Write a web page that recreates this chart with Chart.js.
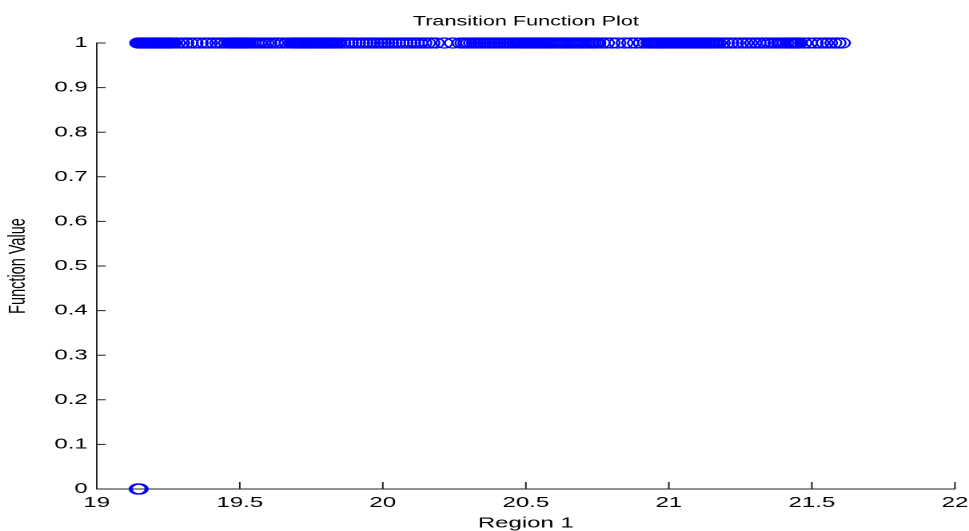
<!DOCTYPE html>
<html>
<head>
<meta charset="utf-8">
<script src="https://cdn.jsdelivr.net/npm/chart.js@4.4.0/dist/chart.umd.min.js"></script>
<style>
  html, body { margin: 0; padding: 0; background: #fff; overflow: hidden; }
  /* the reference figure is stretched sideways, so draw narrow and widen */
  #wrap { width: 606px; height: 531px; transform: scaleX(1.599); transform-origin: 0 0; }
</style>
</head>
<body>
<div id="wrap"><canvas id="chart"></canvas></div>
<script>
// x positions of the observations whose transition value is 1
const onX = [
  19.145, 19.150, 19.156, 19.161, 19.167, 19.172, 19.178, 19.184, 19.190, 19.196, 19.201,
  19.207, 19.213, 19.219, 19.224, 19.230, 19.236, 19.242, 19.248, 19.254, 19.260, 19.266,
  19.280, 19.295, 19.310, 19.325, 19.342, 19.360, 19.378, 19.392, 19.410, 19.425, 19.440, 19.455,
  19.466, 19.472, 19.478, 19.484, 19.490, 19.496, 19.502, 19.508, 19.514, 19.520, 19.527,
  19.535, 19.545, 19.556, 19.566, 19.578, 19.590, 19.600, 19.612, 19.624, 19.635,
  19.652, 19.668,
  19.682, 19.689, 19.695, 19.701, 19.708, 19.714, 19.720, 19.727, 19.733, 19.740, 19.746,
  19.752, 19.759, 19.765, 19.772, 19.778, 19.785, 19.791, 19.798, 19.804, 19.811, 19.818,
  19.824, 19.831, 19.838, 19.845,
  19.858, 19.872, 19.885, 19.898, 19.910, 19.924, 19.936, 19.950, 19.962, 19.975, 19.988,
  20.000, 20.012, 20.025, 20.038, 20.050, 20.063, 20.076, 20.090, 20.103, 20.116, 20.128,
  20.142, 20.155, 20.170, 20.185,
  20.215, 20.245,
  20.272, 20.282, 20.292, 20.302, 20.312, 20.322, 20.332, 20.342, 20.352, 20.362, 20.372,
  20.382, 20.392, 20.402, 20.412, 20.422, 20.432, 20.442, 20.452, 20.462, 20.472,
  20.480, 20.487, 20.494, 20.501, 20.508, 20.515, 20.522, 20.529, 20.536, 20.543, 20.550,
  20.558, 20.566, 20.574, 20.582, 20.590, 20.598, 20.606, 20.614, 20.622, 20.630, 20.638,
  20.646, 20.654, 20.662, 20.670, 20.678, 20.686, 20.694, 20.702, 20.710, 20.718, 20.726,
  20.734, 20.742, 20.750,
  20.765, 20.780, 20.800, 20.820, 20.845, 20.865, 20.885, 20.905, 20.920,
  20.932, 20.938, 20.944, 20.950, 20.956, 20.962, 20.968, 20.975, 20.982, 20.989, 20.996,
  21.003, 21.010, 21.017, 21.024, 21.031, 21.038, 21.045, 21.052, 21.059, 21.066, 21.073,
  21.080, 21.087, 21.094, 21.101, 21.108, 21.115, 21.122, 21.129, 21.136, 21.143, 21.150,
  21.157, 21.164, 21.171,
  21.185, 21.200, 21.215, 21.232, 21.250, 21.265, 21.280, 21.295, 21.310, 21.325, 21.340,
  21.352, 21.364, 21.376, 21.388, 21.398, 21.408,
  21.418, 21.424, 21.430, 21.436, 21.442, 21.448, 21.454,
  21.470, 21.490, 21.510, 21.530, 21.545, 21.560, 21.575, 21.590, 21.605
];
// x positions of the observations whose transition value is 0
const offX = [19.143, 19.147, 19.150];

const xTickLabels = ['19', '19.5', '20', '20.5', '21', '21.5', '22'];
const yTickLabels = ['0', '0.1', '0.2', '0.3', '0.4', '0.5', '0.6', '0.7', '0.8', '0.9', '1'];

const points = onX.map(x => ({ x: x, y: 1 })).concat(offX.map(x => ({ x: x, y: 0 })));

// matlab style ticks pointing into the axes
const innerTicks = {
  id: 'innerTicks',
  beforeDatasetsDraw(chart) {
    const { ctx, chartArea, scales } = chart;
    ctx.save();
    ctx.strokeStyle = '#222';
    ctx.lineWidth = 1;
    ctx.beginPath();
    scales.x.ticks.forEach(t => {
      const px = scales.x.getPixelForValue(t.value);
      ctx.moveTo(px, chartArea.bottom);
      ctx.lineTo(px, chartArea.bottom - 7);
    });
    scales.y.ticks.forEach(t => {
      const py = scales.y.getPixelForValue(t.value);
      ctx.moveTo(chartArea.left, py);
      ctx.lineTo(chartArea.left + 5.6, py);
    });
    ctx.stroke();
    ctx.restore();
  }
};

const font = 'Liberation Sans, Arial, sans-serif';

new Chart(document.getElementById('chart'), {
  type: 'scatter',
  data: {
    datasets: [{
      data: points,
      pointStyle: 'circle',
      pointRadius: 5,
      pointHoverRadius: 5,
      borderColor: '#0000ff',
      backgroundColor: 'rgba(0,0,0,0)',
      pointBorderWidth: 1.25,
      clip: false
    }]
  },
  options: {
    responsive: true,
    maintainAspectRatio: false,
    devicePixelRatio: 2,
    animation: false,
    layout: { padding: 0 },
    plugins: {
      legend: { display: false },
      tooltip: { enabled: false },
      title: {
        display: true,
        text: 'Transition Function Plot',
        fullSize: false,
        color: '#000',
        font: { family: font, size: 13.5, weight: 'normal', lineHeight: 1.2 },
        padding: { top: 13.9, bottom: 12.9 }
      }
    },
    scales: {
      x: {
        type: 'linear',
        min: 19,
        max: 22,
        grid: { display: false, drawTicks: false },
        border: { display: true, color: '#222', width: 1 },
        ticks: {
          stepSize: 0.5,
          padding: 5,
          color: '#000',
          font: { family: font, size: 15 },
          maxRotation: 0,
          callback: (v, i) => xTickLabels[i]
        },
        title: {
          display: true,
          text: 'Region 1',
          color: '#000',
          font: { family: font, size: 15, lineHeight: 1 },
          padding: 0
        },
        afterFit(scale) {
          scale.height = 42;
          scale.paddingLeft = 0;
          scale.paddingRight = 8.8;
        }
      },
      y: {
        type: 'linear',
        min: 0,
        max: 1,
        grid: { display: false, drawTicks: false },
        border: { display: true, color: '#222', width: 1 },
        ticks: {
          stepSize: 0.1,
          padding: 5.6,
          color: '#000',
          font: { family: font, size: 15 },
          callback: (v, i) => yTickLabels[i]
        },
        title: {
          display: true,
          text: 'Function Value',
          color: '#000',
          font: { family: font, size: 14.5, lineHeight: 1 },
          padding: { top: 4, bottom: 0 }
        },
        afterFit(scale) {
          scale.width = 60.5;
          scale.paddingTop = 0;
          scale.paddingBottom = 0;
        }
      }
    }
  },
  plugins: [innerTicks]
});
</script>
</body>
</html>
